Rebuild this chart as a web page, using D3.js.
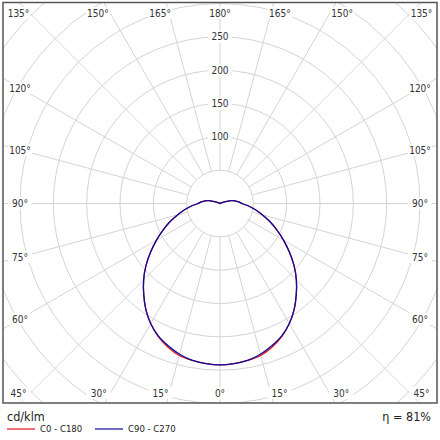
<html>
<head>
  <script src="https://d3js.org/d3.v7.min.js"></script>
  <style>
    body { margin: 0; background: #fff; }
    text { font-family: "DejaVu Sans Condensed", "DejaVu Sans", sans-serif; }
  </style>
</head>
<body>
<svg id="chart" width="440" height="440"></svg>
<script>

  // gamma angles (deg) and intensities in cd/klm
  const gammas = [0,5,10,15,20,25,30,35,40,45,50,55,60,65,70,75,80,85,90,
    95,100,105,110,115,120,125,130,135,140,145,150,155,160,165,170,175,180];
  const c0c180 = [242,241,239,236,229,220,208,194,178,162,145,127,110,94,80,66,54,43,33,
    28,23,17,6,2,1,0.5,0.5,0.5,0.5,0.5,0.5,0.5,0.5,0.5,0.5,0.5,0];
  const c90c270 = [242,241,239,234,227,219,208,194,178,162,145,127,110,94,80,66,54,43,33,
    28,23,17,6,2,1,0.5,0.5,0.5,0.5,0.5,0.5,0.5,0.5,0.5,0.5,0.5,0];
  const ringValues = [50,100,150,200,250,300,350,400,450];
  const ringLabels = [100,150,200,250];
  const angleTicks = d3.range(0, 360, 15);
  const seriesNames = ["C0 - C180", "C90 - C270"];
  const seriesColors = ["#e0141e", "#0c0c9c"];
  const eta = "η = 81%";
  const unit = "cd/klm";

  const cx = 220, cy = 203.5;
  const frame = {x0: 3, y0: 2.5, x1: 437, y1: 403};
  const r = d3.scaleLinear().domain([0, 300]).range([0, 200]);

  const svg = d3.select("#chart");

  svg.append("clipPath").attr("id", "clip")
    .append("rect")
    .attr("x", frame.x0).attr("y", frame.y0)
    .attr("width", frame.x1 - frame.x0).attr("height", frame.y1 - frame.y0);

  const plot = svg.append("g").attr("clip-path", "url(#clip)");
  const grid = plot.append("g").attr("transform", "translate(" + cx + "," + cy + ")");

  grid.selectAll("circle")
    .data(ringValues)
    .join("circle")
    .attr("r", d => r(d))
    .attr("fill", "none")
    .attr("stroke", "#d4d4d4")
    .attr("stroke-width", 1);

  // radial lines, a = angle from straight down
  grid.selectAll("line")
    .data(angleTicks)
    .join("line")
    .attr("x1", d => r(50) * Math.sin(d * Math.PI / 180))
    .attr("y1", d => r(50) * Math.cos(d * Math.PI / 180))
    .attr("x2", d => r(480) * Math.sin(d * Math.PI / 180))
    .attr("y2", d => r(480) * Math.cos(d * Math.PI / 180))
    .attr("stroke", "#d4d4d4")
    .attr("stroke-width", 1);

  // ring labels
  const rl = grid.selectAll("g.rl")
    .data(ringLabels)
    .join("g")
    .attr("class", "rl")
    .attr("transform", d => "translate(0," + (-r(d)) + ")");
  rl.append("rect")
    .attr("x", -12).attr("y", -6).attr("width", 24).attr("height", 12)
    .attr("fill", "#fff");
  rl.append("text")
    .attr("text-anchor", "middle")
    .attr("dy", "0.36em")
    .attr("font-size", 10)
    .attr("fill", "#333")
    .text(d => d);

  // curves
  function curvePoints(vals){
    const right = gammas.map((g, i) => [Math.PI - g * Math.PI / 180, r(vals[i])]);
    const left = gammas.slice().reverse().map((g, i) =>
      [Math.PI + g * Math.PI / 180, r(vals[vals.length - 1 - i])]);
    return right.concat(left.slice(1, -1));
  }
  const line = d3.lineRadial()
    .angle(d => d[0])
    .radius(d => d[1])
    .curve(d3.curveCatmullRomClosed);

  [c0c180, c90c270].forEach((vals, k) => {
    grid.append("path")
      .attr("d", line(curvePoints(vals)))
      .attr("fill", "none")
      .attr("stroke", seriesColors[k])
      .attr("stroke-width", 1.3);
  });

  // angle labels around the frame
  const inset = {x0: 20, x1: 420, y0: 13, y1: 393};
  function labelPos(deg){
    const a = deg * Math.PI / 180;
    const s = Math.sin(a), c = Math.cos(a);
    const tx = Math.abs(s) > 1e-6 ? (s > 0 ? inset.x1 - cx : cx - inset.x0) / Math.abs(s) : Infinity;
    const ty = Math.abs(c) > 1e-6 ? (c > 0 ? inset.y1 - cy : cy - inset.y0) / Math.abs(c) : Infinity;
    if (tx < ty) return [cx + s * tx, cy + c * tx];
    const fy = c > 0 ? frame.y1 - cy : cy - frame.y0;
    let x = cx + s * fy / Math.abs(c);
    if (Math.abs(s) > 1e-6) x += (s > 0 ? 6 : -6);
    x = Math.max(18.5, Math.min(421.5, x));
    return [x, c > 0 ? inset.y1 : inset.y0];
  }
  const al = svg.append("g").selectAll("g")
    .data(angleTicks)
    .join("g")
    .attr("transform", d => "translate(" + labelPos(d) + ")");
  al.append("rect")
    .attr("x", -12).attr("y", -6).attr("width", 24).attr("height", 12)
    .attr("fill", "#fff");
  al.append("text")
    .attr("text-anchor", "middle")
    .attr("dy", "0.36em")
    .attr("font-size", 10)
    .attr("fill", "#333")
    .text(d => (d <= 180 ? d : 360 - d) + "°");

  svg.append("rect")
    .attr("x", frame.x0).attr("y", frame.y0)
    .attr("width", frame.x1 - frame.x0).attr("height", frame.y1 - frame.y0)
    .attr("fill", "none")
    .attr("stroke", "#555")
    .attr("stroke-width", 1.5);

  // footer
  svg.append("text")
    .attr("x", 7).attr("y", 421)
    .attr("font-size", 12.5)
    .attr("fill", "#222")
    .text(unit);
  svg.append("text")
    .attr("x", 431).attr("y", 421)
    .attr("text-anchor", "end")
    .attr("font-size", 12.5)
    .attr("fill", "#222")
    .text(eta);

  const legend = svg.append("g").selectAll("g")
    .data(seriesNames)
    .join("g")
    .attr("transform", (d, i) => "translate(" + (7 + i * 88) + ",429)");
  legend.append("line")
    .attr("x1", 0).attr("x2", 28)
    .attr("stroke", (d, i) => seriesColors[i])
    .attr("stroke-width", 1.2);
  legend.append("text")
    .attr("x", 33).attr("dy", "0.36em")
    .attr("font-size", 9.5)
    .attr("fill", "#222")
    .text(d => d);

</script>
</body>
</html>
